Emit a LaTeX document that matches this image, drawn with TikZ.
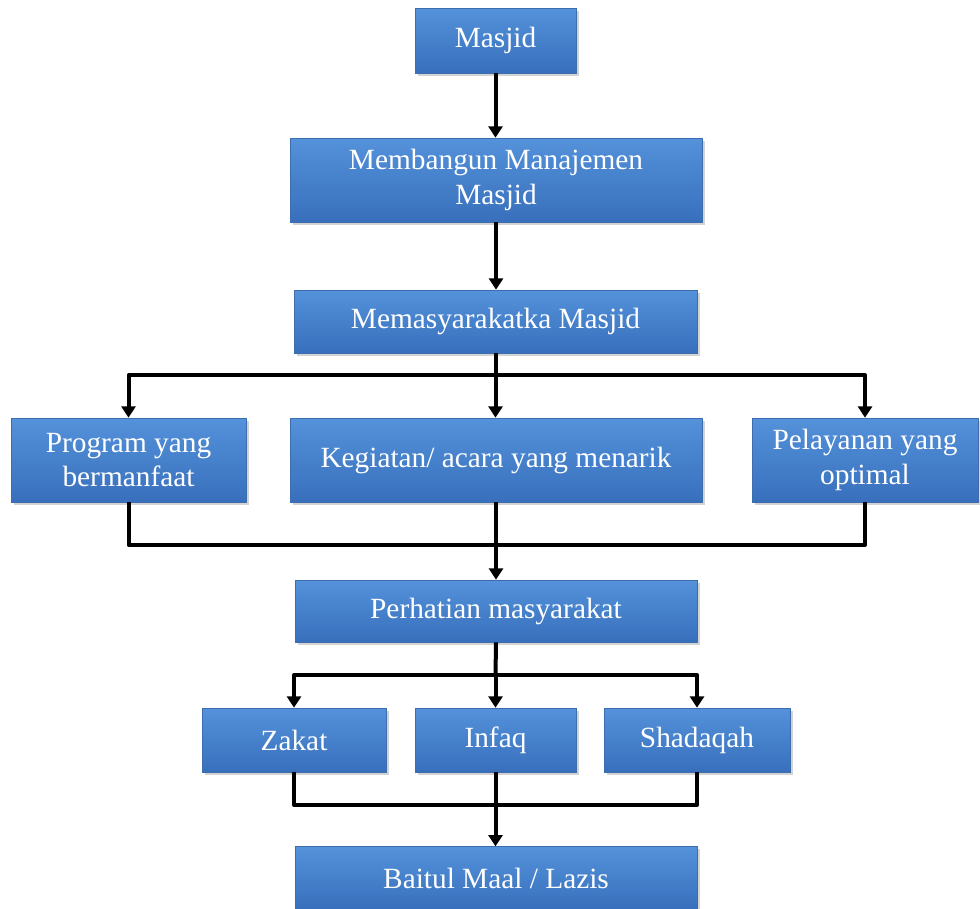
\documentclass[tikz,border=0pt]{standalone}
\usepackage{fontspec}
\setmainfont{Liberation Serif}
\usetikzlibrary{arrows.meta, shadows}

\definecolor{boxtop}{RGB}{84,146,218}
\definecolor{boxbot}{RGB}{56,111,188}
\definecolor{boxline}{RGB}{60,110,175}

\tikzset{
    box/.style={draw=boxline, line width=0.5pt, top color=boxtop, bottom color=boxbot,
        text=white, inner sep=0pt, align=center,
        font=\fontsize{22}{26}\selectfont,
        drop shadow={opacity=0.35, shadow xshift=2pt, shadow yshift=-2pt}},
    line/.style={line width=3pt, line join=round},
    arrow/.style={line, -{Triangle[width=10.5pt,length=8.5pt]}}
}

\begin{document}
\begin{tikzpicture}[x=0.75pt, y=-0.75pt]
            \clip (0,0) rectangle (980,908);
            \useasboundingbox (0,0) rectangle (980,908);

            \node[box, minimum width=120.75pt, minimum height=48.75pt] (masjid) at (495.5,40.5) {Masjid};
            \node[box, minimum width=309pt, minimum height=63pt] (bangun) at (496,180) {Membangun Manajemen\\Masjid};
            \node[box, minimum width=302.25pt, minimum height=47.25pt] (masy) at (495.5,321.5) {Memasyarakatka Masjid};

            \node[box, minimum width=176.25pt, minimum height=63pt] (program) at (128.5,460) {Program yang\\bermanfaat};
            \node[box, minimum width=309pt, minimum height=63pt] (kegiatan) at (496,460) {Kegiatan/ acara yang menarik};
            \node[box, minimum width=169.5pt, minimum height=63pt] (pelayanan) at (865,460) {Pelayanan yang\\optimal};

            \node[box, minimum width=301.5pt, minimum height=46.5pt] (perhatian) at (496,611) {Perhatian masyarakat};

            \node[box, minimum width=138pt, minimum height=48pt] (zakat) at (294,740) {Zakat};
            \node[box, minimum width=120.75pt, minimum height=48pt] (infaq) at (495.5,740) {Infaq};
            \node[box, minimum width=139.5pt, minimum height=48pt] (shadaqah) at (697,740) {Shadaqah};

            \node[box, minimum width=301.5pt, minimum height=47pt] (baitul) at (496,878) {Baitul Maal / Lazis};

            % alur utama
            \draw[arrow] (masjid.south) -- (masjid.south |- bangun.north);
            \draw[arrow] (bangun.south) -- (bangun.south |- masy.north);

            % cabang ke tiga kegiatan
            \coordinate (split1) at (495.5,375);
            \draw[line] (masy.south) -- (split1);
            \draw[arrow] (split1) -| (program.north);
            \draw[arrow] (split1) -| (pelayanan.north);
            \draw[arrow] (split1) -- (split1 |- kegiatan.north);

            % gabung ke perhatian
            \coordinate (join1) at (495.5,545);
            \draw[line] (program.south) |- (join1) -| (pelayanan.south);
            \draw[arrow] (kegiatan.south) -- (kegiatan.south |- perhatian.north);

            % cabang ke zakat, infaq, shadaqah
            \coordinate (split2) at (495.5,675);
            \draw[line] (perhatian.south) -- (split2);
            \draw[arrow] (split2) -| (zakat.north);
            \draw[arrow] (split2) -| (shadaqah.north);
            \draw[arrow] (split2) -- (infaq.north);

            % gabung ke baitul maal
            \coordinate (join2) at (495.5,805);
            \draw[line] (zakat.south) |- (join2) -| (shadaqah.south);
            \draw[arrow] (infaq.south) -- (infaq.south |- baitul.north);
\end{tikzpicture}
\end{document}
